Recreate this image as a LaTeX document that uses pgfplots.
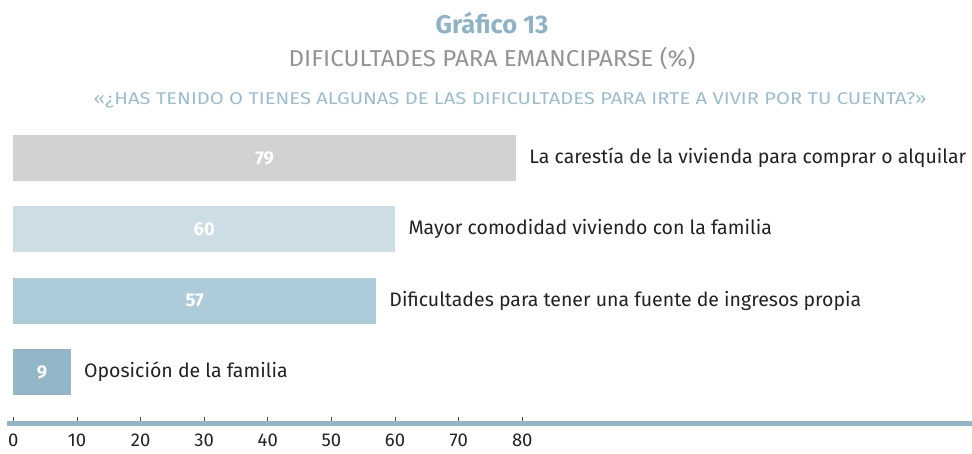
\documentclass[border=0pt]{standalone}
\usepackage{pgfplots}
\pgfplotsset{compat=1.18}
\usepackage{fontspec}
\setmainfont{Fira Sans}
\definecolor{cGray}{HTML}{D1D2D4}
\definecolor{cLight}{HTML}{CCDDE5}
\definecolor{cMid}{HTML}{AECBD9}
\definecolor{cDark}{HTML}{93B5C8}
\definecolor{cTitle}{HTML}{8EB3C6}
\definecolor{cSub}{HTML}{939393}
\definecolor{cQ}{HTML}{9BBDCE}
\definecolor{cText}{HTML}{222222}
\begin{document}
\begin{tikzpicture}[x=1pt,y=1pt]
\path (0,0) rectangle (972,-453);
\node[anchor=base, text=cTitle, font=\fontsize{25.5}{28}\selectfont\bfseries] at (492,-33) {Gráfico 13};
\node[anchor=base, text=cSub, font=\fontsize{23}{26}\selectfont] at (492,-66) {\scalebox{1.05}[1]{DIFICULTADES PARA EMANCIPARSE (\%)}};
\node[anchor=base, text=cQ, font=\fontsize{17}{20}\selectfont] at (510,-104) {\scalebox{1.186}[1]{«¿HAS TENIDO O TIENES ALGUNAS DE LAS DIFICULTADES PARA IRTE A VIVIR POR TU CUENTA?»}};
\begin{axis}[
  scale only axis,
  width=965.5pt, height=301pt,
  at={(6.5pt,-423.5pt)}, anchor=south west,
  xmin=-1.08, xmax=150.7,
  ymin=-0.722, ymax=3.5,
  axis x line*=bottom,
  axis y line=none,
  x axis line style={-, draw=cDark, line width=4.7pt},
  xtick={0,10,...,80},
  tick align=inside,
  major tick length=6.5pt,
  xtick style={draw=black!70, line width=0.8pt},
  /pgf/number format/assume math mode=true,
  xticklabel style={text=cText, font=\fontsize{18.5}{20}\selectfont, anchor=north, yshift=-8.5pt, inner sep=2pt},
  ytick=\empty,
  xbar, bar width=46pt, bar shift=0pt,
  clip=false,
  nodes near coords,
  point meta=explicit symbolic,
  every node near coord/.append style={anchor=west, xshift=10pt, text=cText, font=\fontsize{19.5}{22}\selectfont},
]
\addplot[fill=cGray, draw=none] coordinates {(79,3) [La carestía de la vivienda para comprar o alquilar]};
\addplot[fill=cLight, draw=none] coordinates {(60,2) [Mayor comodidad viviendo con la familia]};
\addplot[fill=cMid, draw=none] coordinates {(57,1) [Dificultades para tener una fuente de ingresos propia]};
\addplot[fill=cDark, draw=none] coordinates {(9,0) [Oposición de la familia]};
\addplot[draw=none, mark=none, xbar=false, nodes near coords,
  every node near coord/.append style={anchor=center, xshift=-10pt, text=white, font=\fontsize{18.5}{20}\selectfont\bfseries}]
  coordinates {(39.5,3) [79] (30,2) [60] (28.5,1) [57] (4.5,0) [9]};
\end{axis}
\pgfresetboundingbox
\useasboundingbox (0,0) rectangle (972,-453);
\end{tikzpicture}
\end{document}
